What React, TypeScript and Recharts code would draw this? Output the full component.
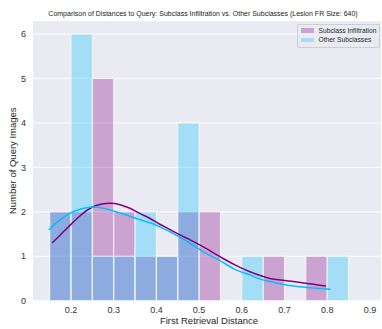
import { ComposedChart, Bar, Line, XAxis, YAxis, CartesianGrid, Legend } from 'recharts';

// histogram bins (width 0.05), given by their centres
const binCenters = [0.175, 0.225, 0.275, 0.325, 0.375, 0.425, 0.475, 0.525, 0.575, 0.625, 0.675, 0.725, 0.775, 0.825];
const infiltrationCounts = [2, 2, 5, 2, 1, 1, 2, 2, 0, 0, 1, 0, 1, 0];
const otherCounts = [2, 6, 1, 1, 2, 1, 4, 0, 0, 1, 0, 0, 0, 1];

// KDE curves, scaled to counts
const infiltrationKdeX = [0.156, 0.175, 0.198, 0.22, 0.245, 0.27, 0.291, 0.315, 0.338, 0.36, 0.385, 0.408, 0.432, 0.455, 0.479, 0.51, 0.549, 0.585, 0.619, 0.645, 0.666, 0.695, 0.721, 0.76, 0.797];
const infiltrationKdeY = [1.3, 1.48, 1.7, 1.9, 2.08, 2.17, 2.19, 2.16, 2.08, 1.97, 1.85, 1.72, 1.6, 1.48, 1.37, 1.21, 0.99, 0.8, 0.65, 0.56, 0.5, 0.46, 0.43, 0.38, 0.33];
const otherKdeX = [0.148, 0.165, 0.18, 0.198, 0.225, 0.252, 0.275, 0.299, 0.33, 0.362, 0.395, 0.408, 0.432, 0.455, 0.479, 0.51, 0.549, 0.585, 0.619, 0.645, 0.666, 0.695, 0.721, 0.76, 0.807];
const otherKdeY = [1.59, 1.75, 1.86, 1.97, 2.07, 2.11, 2.08, 2.02, 1.93, 1.82, 1.72, 1.66, 1.55, 1.43, 1.29, 1.1, 0.9, 0.7, 0.58, 0.48, 0.43, 0.37, 0.33, 0.29, 0.26];

const xTicks = [0.2, 0.3, 0.4, 0.5, 0.6, 0.7, 0.8, 0.9];
const yTicks = [0, 1, 2, 3, 4, 5, 6];

const TITLE = 'Comparison of Distances to Query: Subclass Infiltration vs. Other Subclasses (Lesion FR Size: 640)';
const SERIES = [
  { name: 'Subclass Infiltration', fill: 'rgba(128,0,128,0.3)', line: '#800080' },
  { name: 'Other Subclasses', fill: 'rgba(0,191,255,0.3)', line: '#00bfff' },
];

const W = 382;
const H = 329;
const margin = { top: 20.7, right: 1, bottom: 0, left: 0 };
const yAxisW = 33;
const xDomain: [number, number] = [0.111, 0.926];
const binPx = (0.05 * (W - yAxisW - margin.right)) / (xDomain[1] - xDomain[0]);
const font = '"Liberation Sans", Arial, sans-serif';

const bins = binCenters.map((x, i) => ({ x, infiltration: infiltrationCounts[i], other: otherCounts[i] }));
const infiltrationKde = infiltrationKdeX.map((x, i) => ({ x, y: infiltrationKdeY[i] }));
const otherKde = otherKdeX.map((x, i) => ({ x, y: otherKdeY[i] }));

function LegendBox() {
  return (
    <div
      style={{
        border: '1px solid #cdcdd4',
        borderRadius: 2,
        background: 'rgba(234,234,242,0.8)',
        padding: '1.5px 2px 2px 2.5px',
        fontFamily: font,
        fontSize: 6.7,
        lineHeight: '9.3px',
        color: '#262626',
        whiteSpace: 'nowrap',
      }}
    >
      {SERIES.map((s) => (
        <div key={s.name} style={{ display: 'flex', alignItems: 'center' }}>
          <span style={{ display: 'inline-block', width: 13, height: 4.5, background: s.fill, marginRight: 5 }} />
          {s.name}
        </div>
      ))}
    </div>
  );
}

export default function App() {
  return (
    <div style={{ position: 'absolute', left: 0, top: 0, width: W, height: H, background: '#fff' }}>
      <div
        style={{
          position: 'absolute',
          left: 0,
          width: W + 38,
          marginLeft: -7,
          top: 10,
          textAlign: 'center',
          fontFamily: font,
          fontSize: 7,
          color: '#222',
          whiteSpace: 'nowrap',
          zIndex: 2,
        }}
      >
        {TITLE}
      </div>
      <ComposedChart width={W} height={H} data={bins} margin={margin}>
        <CartesianGrid xAxisId="main" vertical={false} stroke="#fff" strokeWidth={1} fill="#eaeaf2" />
        <XAxis
          xAxisId="main"
          dataKey="x"
          type="number"
          domain={xDomain}
          allowDataOverflow
          ticks={xTicks}
          tickFormatter={(v) => String(v)}
          axisLine={false}
          tickLine={false}
          tickSize={0}
          tickMargin={6}
          height={28.3}
          tick={{ fontSize: 9, fill: '#333', fontFamily: font }}
          label={{ value: 'First Retrieval Distance', position: 'insideBottom', offset: 5, dx: 2, fontSize: 9.5, fill: '#262626', fontFamily: font }}
        />
        <XAxis xAxisId="other" dataKey="x" type="number" domain={xDomain} allowDataOverflow height={0} hide />
        <XAxis xAxisId="kde" dataKey="x" type="number" domain={xDomain} allowDataOverflow height={0} hide />
        <YAxis
          type="number"
          domain={[0, 6.3]}
          allowDataOverflow
          ticks={yTicks}
          axisLine={false}
          tickLine={false}
          tickSize={0}
          tickMargin={7}
          width={yAxisW}
          tick={{ fontSize: 9, fill: '#333', fontFamily: font }}
          label={(props: any) => {
            const vb = props.viewBox || { x: 0, y: 20.7, width: 33, height: 280 };
            const cx = 13;
            const cy = vb.y + vb.height / 2;
            return (
              <text
                x={cx}
                y={cy}
                transform={`rotate(-90 ${cx} ${cy})`}
                textAnchor="middle"
                dominantBaseline="central"
                fontSize={9.5}
                fill="#262626"
                fontFamily={font}
              >
                Number of Query Images
              </text>
            );
          }}
        />
        <Bar
          xAxisId="main"
          dataKey="infiltration"
          name={SERIES[0].name}
          barSize={binPx - 0.04}
          fill={SERIES[0].fill}
          stroke="rgba(255,255,255,0.75)"
          strokeWidth={1}
          isAnimationActive={false}
        />
        <Bar
          xAxisId="other"
          dataKey="other"
          name={SERIES[1].name}
          barSize={binPx - 0.04}
          fill={SERIES[1].fill}
          stroke="rgba(255,255,255,0.75)"
          strokeWidth={1}
          isAnimationActive={false}
        />
        <Line
          xAxisId="kde"
          data={infiltrationKde}
          dataKey="y"
          type="monotone"
          stroke={SERIES[0].line}
          strokeWidth={1.5}
          dot={false}
          legendType="none"
          isAnimationActive={false}
        />
        <Line
          xAxisId="kde"
          data={otherKde}
          dataKey="y"
          type="monotone"
          stroke={SERIES[1].line}
          strokeWidth={1.5}
          dot={false}
          legendType="none"
          isAnimationActive={false}
        />
        <Legend
          layout="vertical"
          align="center"
          verticalAlign="middle"
          content={() => <LegendBox />}
          wrapperStyle={{ left: 297, top: 23.5, width: 'auto', height: 'auto' }}
        />
      </ComposedChart>
    </div>
  );
}
